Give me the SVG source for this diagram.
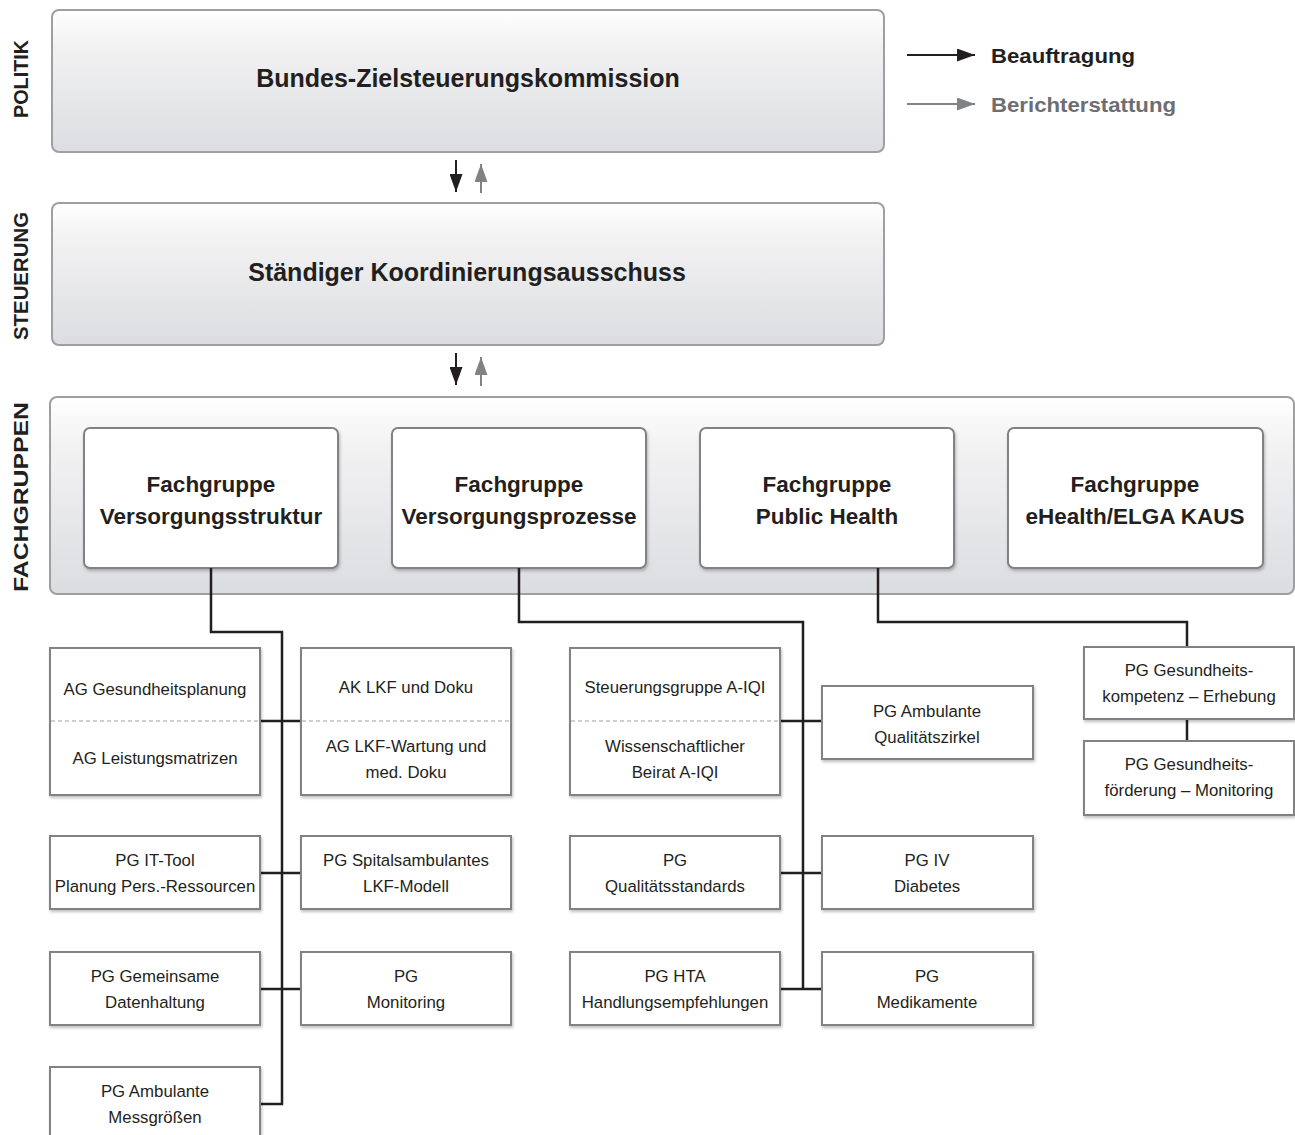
<svg xmlns="http://www.w3.org/2000/svg" width="1295" height="1135" viewBox="0 0 1295 1135">
<defs>
<linearGradient id="g" x1="0" y1="0" x2="0" y2="1">
<stop offset="0" stop-color="#ffffff"/>
<stop offset="0.25" stop-color="#f2f2f3"/>
<stop offset="1" stop-color="#dcdde0"/>
</linearGradient>
<filter id="sh" x="-10%" y="-10%" width="120%" height="130%">
<feDropShadow dx="1" dy="2" stdDeviation="1.5" flood-color="#000" flood-opacity="0.25"/>
</filter>
<marker id="ab" viewBox="0 0 18 13" refX="18" refY="6.5" markerWidth="18" markerHeight="13" markerUnits="userSpaceOnUse" orient="auto">
<path d="M0,0 L18,6.5 L0,13 Z" fill="#231f20"/>
</marker>
<marker id="ag" viewBox="0 0 18 13" refX="18" refY="6.5" markerWidth="18" markerHeight="13" markerUnits="userSpaceOnUse" orient="auto">
<path d="M0,0 L18,6.5 L0,13 Z" fill="#808285"/>
</marker>
</defs>
<style>
.big{fill:url(#g);stroke:#9d9fa2;stroke-width:2}
.fg{fill:#fff;stroke:#808285;stroke-width:2;filter:url(#sh)}
.pg{fill:#fff;stroke:#808285;stroke-width:2;filter:url(#sh)}
.t{font-family:"Liberation Sans",Arial,sans-serif;fill:#231f20;text-anchor:middle}
.h1{font-size:25px;font-weight:bold}
.h2{font-size:22.5px;font-weight:bold}
.s{font-size:16.8px}
.lab{font-family:"Liberation Sans",Arial,sans-serif;font-weight:bold;font-size:21px;fill:#231f20;text-anchor:middle}
.con{fill:none;stroke:#231f20;stroke-width:2.5}
.dash{stroke:#9d9fa2;stroke-width:1.2;stroke-dasharray:4,3}
</style>

<g id="side-labels">
<text class="lab" transform="translate(28,79) rotate(-90)" textLength="78" lengthAdjust="spacingAndGlyphs">POLITIK</text>
<text class="lab" transform="translate(28,276) rotate(-90)" textLength="128" lengthAdjust="spacingAndGlyphs">STEUERUNG</text>
<text class="lab" transform="translate(28,497) rotate(-90)" textLength="190" lengthAdjust="spacingAndGlyphs">FACHGRUPPEN</text>
</g>

<g id="legend">
<line x1="907" y1="55" x2="975" y2="55" stroke="#231f20" stroke-width="2" marker-end="url(#ab)"/>
<text x="991" y="63" font-family="Liberation Sans,Arial,sans-serif" font-size="21" font-weight="bold" fill="#231f20" textLength="144" lengthAdjust="spacingAndGlyphs">Beauftragung</text>
<line x1="907" y1="104" x2="975" y2="104" stroke="#808285" stroke-width="2" marker-end="url(#ag)"/>
<text x="991" y="112" font-family="Liberation Sans,Arial,sans-serif" font-size="21" font-weight="bold" fill="#6d6e71" textLength="185" lengthAdjust="spacingAndGlyphs">Berichterstattung</text>
</g>

<g id="bundes">
<rect class="big" x="52" y="10" width="832" height="142" rx="7"/>
<text class="t h1" x="468" y="87">Bundes-Zielsteuerungskommission</text>
</g>
<g id="koordinierung">
<rect class="big" x="52" y="203" width="832" height="142" rx="7"/>
<text class="t h1" x="467" y="281">Ständiger Koordinierungsausschuss</text>
</g>
<g id="fachgruppen">
<rect class="big" x="50" y="397" width="1244" height="197" rx="7"/>
</g>

<g id="fg1">
<rect class="fg" x="84" y="428" width="254" height="140" rx="6"/>
<text class="t h2" x="211" y="492">Fachgruppe</text>
<text class="t h2" x="211" y="524">Versorgungsstruktur</text>
</g>
<g id="fg2">
<rect class="fg" x="392" y="428" width="254" height="140" rx="6"/>
<text class="t h2" x="519" y="492">Fachgruppe</text>
<text class="t h2" x="519" y="524">Versorgungsprozesse</text>
</g>
<g id="fg3">
<rect class="fg" x="700" y="428" width="254" height="140" rx="6"/>
<text class="t h2" x="827" y="492">Fachgruppe</text>
<text class="t h2" x="827" y="524">Public Health</text>
</g>
<g id="fg4">
<rect class="fg" x="1008" y="428" width="255" height="140" rx="6"/>
<text class="t h2" x="1135" y="492">Fachgruppe</text>
<text class="t h2" x="1135" y="524">eHealth/ELGA KAUS</text>
</g>

<g id="connectors">
<line x1="456" y1="160" x2="456" y2="192" stroke="#231f20" stroke-width="2" marker-end="url(#ab)"/>
<line x1="481" y1="193" x2="481" y2="164" stroke="#808285" stroke-width="2" marker-end="url(#ag)"/>
<line x1="456" y1="353" x2="456" y2="385" stroke="#231f20" stroke-width="2" marker-end="url(#ab)"/>
<line x1="481" y1="386" x2="481" y2="357" stroke="#808285" stroke-width="2" marker-end="url(#ag)"/>

<path class="con" d="M211,568 V632 H282 V1104 H260"/>
<path class="con" d="M260,721 H301 M260,873 H301 M260,989 H301"/>
<path class="con" d="M519,568 V622 H803 V989"/>
<path class="con" d="M780,721 H822 M780,873 H822 M780,989 H822"/>
<path class="con" d="M878,568 V622 H1187 V647 M1187,719 V741"/>
</g>

<g id="a1">
<rect class="pg" x="50" y="648" width="210" height="147"/>
<line class="dash" x1="51" y1="721" x2="259" y2="721"/>
<text class="t s" x="155" y="695">AG Gesundheitsplanung</text>
<text class="t s" x="155" y="764">AG Leistungsmatrizen</text>
</g>
<g id="b1">
<rect class="pg" x="301" y="648" width="210" height="147"/>
<line class="dash" x1="302" y1="721" x2="510" y2="721"/>
<text class="t s" x="406" y="693">AK LKF und Doku</text>
<text class="t s" x="406" y="752">AG LKF-Wartung und</text>
<text class="t s" x="406" y="778">med. Doku</text>
</g>
<g id="a2">
<rect class="pg" x="50" y="836" width="210" height="73"/>
<text class="t s" x="155" y="866">PG IT-Tool</text>
<text class="t s" x="155" y="892">Planung Pers.-Ressourcen</text>
</g>
<g id="b2">
<rect class="pg" x="301" y="836" width="210" height="73"/>
<text class="t s" x="406" y="866">PG Spitalsambulantes</text>
<text class="t s" x="406" y="892">LKF-Modell</text>
</g>
<g id="a3">
<rect class="pg" x="50" y="952" width="210" height="73"/>
<text class="t s" x="155" y="982">PG Gemeinsame</text>
<text class="t s" x="155" y="1008">Datenhaltung</text>
</g>
<g id="b3">
<rect class="pg" x="301" y="952" width="210" height="73"/>
<text class="t s" x="406" y="982">PG</text>
<text class="t s" x="406" y="1008">Monitoring</text>
</g>
<g id="a4">
<rect class="pg" x="50" y="1067" width="210" height="80"/>
<text class="t s" x="155" y="1097">PG Ambulante</text>
<text class="t s" x="155" y="1123">Messgrößen</text>
</g>

<g id="c1">
<rect class="pg" x="570" y="648" width="210" height="147"/>
<line class="dash" x1="571" y1="721" x2="779" y2="721"/>
<text class="t s" x="675" y="693">Steuerungsgruppe A-IQI</text>
<text class="t s" x="675" y="752">Wissenschaftlicher</text>
<text class="t s" x="675" y="778">Beirat A-IQI</text>
</g>
<g id="d1">
<rect class="pg" x="822" y="686" width="211" height="73"/>
<text class="t s" x="927" y="717">PG Ambulante</text>
<text class="t s" x="927" y="743">Qualitätszirkel</text>
</g>
<g id="c2">
<rect class="pg" x="570" y="836" width="210" height="73"/>
<text class="t s" x="675" y="866">PG</text>
<text class="t s" x="675" y="892">Qualitätsstandards</text>
</g>
<g id="d2">
<rect class="pg" x="822" y="836" width="211" height="73"/>
<text class="t s" x="927" y="866">PG IV</text>
<text class="t s" x="927" y="892">Diabetes</text>
</g>
<g id="c3">
<rect class="pg" x="570" y="952" width="210" height="73"/>
<text class="t s" x="675" y="982">PG HTA</text>
<text class="t s" x="675" y="1008">Handlungsempfehlungen</text>
</g>
<g id="d3">
<rect class="pg" x="822" y="952" width="211" height="73"/>
<text class="t s" x="927" y="982">PG</text>
<text class="t s" x="927" y="1008">Medikamente</text>
</g>

<g id="e1">
<rect class="pg" x="1084" y="647" width="210" height="72"/>
<text class="t s" x="1189" y="676">PG Gesundheits-</text>
<text class="t s" x="1189" y="702">kompetenz – Erhebung</text>
</g>
<g id="e2">
<rect class="pg" x="1084" y="741" width="210" height="74"/>
<text class="t s" x="1189" y="770">PG Gesundheits-</text>
<text class="t s" x="1189" y="796">förderung – Monitoring</text>
</g>
</svg>
